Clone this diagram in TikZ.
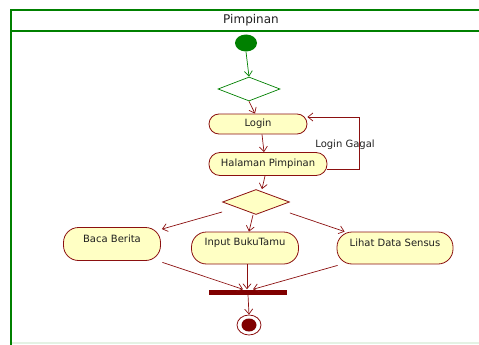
\documentclass[tikz,border=0pt]{standalone}
\usepackage{fontspec}
\setmainfont{DejaVu Sans}
\usetikzlibrary{arrows.meta,shapes.geometric,calc}
\definecolor{ugreen}{HTML}{008000}
\definecolor{ured}{HTML}{8B1010}
\definecolor{ubar}{HTML}{800000}
\definecolor{ufill}{HTML}{FFFFC4}
\definecolor{utxt}{HTML}{202020}
\definecolor{ufaint}{HTML}{E4F2E4}
\begin{document}
\begin{tikzpicture}[x=1pt,y=-1pt,
  act/.style={draw=ured, fill=ufill, line width=0.8pt, inner sep=0pt,
    font=\fontsize{10}{12}\selectfont, text=utxt},
  acthi/.style={act, label={[font=\fontsize{10}{12}\selectfont, text=utxt, yshift=5pt]center:#1}},
  flow/.style={draw=ured, line width=0.7pt, -{Straight Barb[length=5pt,width=8pt]}},
  gflow/.style={draw=ugreen, line width=0.7pt, -{Straight Barb[length=5pt,width=8pt]}},
  frame/.style={draw=ugreen, line width=1.6pt}]
\useasboundingbox (0,0) rectangle (479,345);
% swimlane frame
\draw[frame] (11,345) -- (11,10) -- (481,10);
\draw[frame] (11,31) -- (481,31);
\draw[draw=ufaint, line width=1.2pt] (12,343) -- (479,343);
\node[font=\fontsize{12}{14}\selectfont, text=utxt] (title) at (251,20.5) {Pimpinan};
% nodes
\node[ellipse, fill=ugreen, minimum width=22pt, minimum height=17pt, inner sep=0pt] (start) at (246,43) {};
\node[diamond, draw=ugreen, line width=0.7pt, fill=white, minimum width=62pt, minimum height=24pt, inner sep=0pt] (d1) at (249,89) {};
\node[act, rounded corners=10pt, minimum width=98pt, minimum height=20pt] (login) at (258,124) {Login};
\node[act, rounded corners=11pt, minimum width=118pt, minimum height=23pt] (hal) at (268,164) {Halaman Pimpinan};
\node[diamond, draw=ured, line width=0.8pt, fill=ufill, minimum width=67pt, minimum height=25pt, inner sep=0pt] (d2) at (256,202) {};
\node[acthi={Baca Berita}, rounded corners=15pt, minimum width=97pt, minimum height=33pt] (bb) at (112,244) {};
\node[acthi={Input BukuTamu}, rounded corners=15pt, minimum width=107pt, minimum height=32pt] (ib) at (245,248) {};
\node[acthi={Lihat Data Sensus}, rounded corners=15pt, minimum width=116pt, minimum height=32pt] (ld) at (395,248) {};
\node[fill=ubar, minimum width=78pt, minimum height=5pt, inner sep=0pt] (bar) at (248,292) {};
\node[ellipse, draw=ured, line width=0.8pt, fill=white, minimum width=24pt, minimum height=20pt, inner sep=0pt] (end) at (249,325) {};
\node[ellipse, fill=ubar, minimum width=15pt, minimum height=13pt, inner sep=0pt] (endin) at (end.center) {};
\node[font=\fontsize{10}{12}\selectfont, text=utxt] (lg) at (345,145) {Login Gagal};
% connectors
\draw[gflow] (start.south) -- (d1.north);
\draw[flow] (d1.south) -- ($(login.north)+(-3,0)$);
\draw[flow] ($(login.south)+(4,0)$) -- ($(hal.north)+(-4,0)$);
\draw[flow] ($(hal.east)+(0,5)$) -- ++(32,0) |- ($(login.east)+(0,-7)$);
\draw[flow] ($(hal.south)+(-3,0)$) -- ($(d2.north)+(6,0)$);
\draw[flow] ($(d2.west)+(0,10)$) -- ($(bb.north east)+(1,2)$);
\draw[flow] ($(d2.south)+(-3,0)$) -- ($(ib.north)+(4,0)$);
\draw[flow] ($(d2.east)+(0,11)$) -- ($(ld.north west)+(8,0)$);
\draw[flow] ($(bb.south east)+(1.5,1.5)$) -- ($(bar.north)+(-5,0)$);
\draw[flow] ($(ib.south)+(2,0)$) -- ($(bar.north)+(-1,0)$);
\draw[flow] ($(ld.south west)+(1,1)$) -- ($(bar.north)+(5,0)$);
\draw[flow] (bar.south) -- (end.north);
\end{tikzpicture}
\end{document}
